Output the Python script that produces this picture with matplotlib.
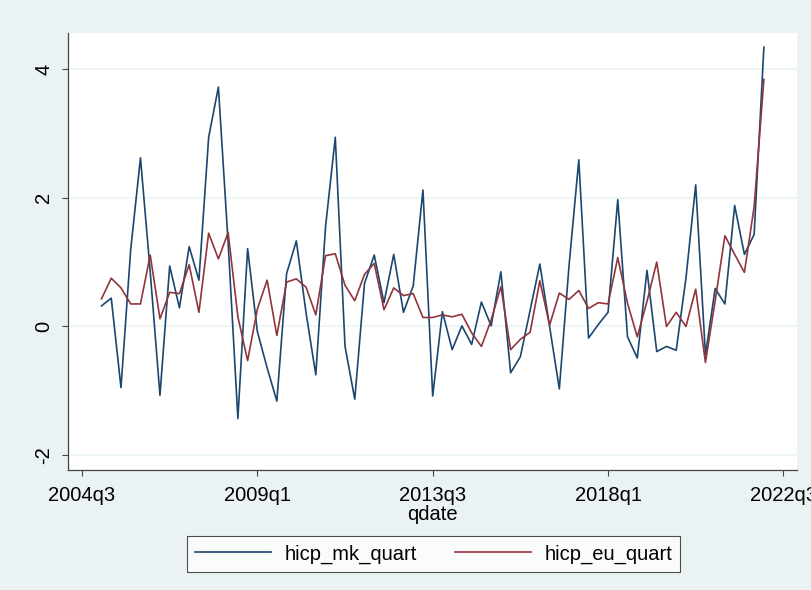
import numpy as np
import matplotlib
matplotlib.use('Agg')
import matplotlib.pyplot as plt

# quarterly dates in Stata tq() units (2005q1 = 180)
qdate = np.arange(180, 180 + 69)

hicp_mk_quart = [0.32, 0.44, -0.95, 1.2, 2.62, 0.85, -1.07, 0.94, 0.29, 1.24,
                 0.72, 2.94, 3.72, 1.3, -1.43, 1.21, -0.08, -0.64, -1.16, 0.82,
                 1.33, 0.21, -0.75, 1.55, 2.94, -0.31, -1.13, 0.67, 1.11, 0.37,
                 1.12, 0.22, 0.63, 2.12, -1.08, 0.23, -0.36, 0.01, -0.28, 0.38,
                 0.01, 0.85, -0.72, -0.47, 0.25, 0.97, 0.0, -0.97, 0.95, 2.59,
                 -0.18, 0.03, 0.22, 1.97, -0.16, -0.49, 0.87, -0.39, -0.31, -0.37,
                 0.75, 2.20, -0.44, 0.59, 0.35, 1.88, 1.12, 1.43, 4.34]

hicp_eu_quart = [0.43, 0.75, 0.60, 0.35, 0.35, 1.11, 0.12, 0.53, 0.51, 0.96,
                 0.22, 1.45, 1.05, 1.46, 0.15, -0.53, 0.27, 0.72, -0.14, 0.69,
                 0.74, 0.61, 0.18, 1.10, 1.13, 0.64, 0.40, 0.81, 0.98, 0.26,
                 0.60, 0.48, 0.51, 0.14, 0.14, 0.18, 0.15, 0.19, -0.10, -0.31,
                 0.10, 0.62, -0.36, -0.20, -0.09, 0.71, 0.02, 0.52, 0.42, 0.56,
                 0.28, 0.37, 0.35, 1.07, 0.36, -0.16, 0.39, 1.00, 0.0, 0.22,
                 0.0, 0.58, -0.56, 0.40, 1.41, 1.12, 0.84, 1.86, 3.84]

xticks = [178, 196, 214, 232, 250]
yticks = [-2, 0, 2, 4]


def qlabel(q):
    return f"{1960 + q // 4}q{q % 4 + 1}"


plt.rcParams['font.family'] = ['Liberation Sans', 'DejaVu Sans']
bg = '#EAF2F3'

fig = plt.figure(figsize=(8.11, 5.9), dpi=100, facecolor=bg)
ax = fig.add_axes([68 / 811, 1 - 470 / 590, (797 - 68) / 811, (470 - 33) / 590])
ax.set_facecolor('white')

ax.plot(qdate, hicp_mk_quart, color='#1a476f', linewidth=1.2, label='hicp_mk_quart')
ax.plot(qdate, hicp_eu_quart, color='#90353b', linewidth=1.2, label='hicp_eu_quart')

ax.set_xlim(176.56, 251.4)
ax.set_ylim(-2.23, 4.56)
ax.set_xticks(xticks)
ax.set_xticklabels([qlabel(q) for q in xticks])
ax.set_yticks(yticks)
ax.set_yticklabels([str(v) for v in yticks], rotation=90, va='center')

ax.grid(axis='y', color=bg, linewidth=1.1)
ax.set_axisbelow(True)

for side in ['top', 'right']:
    ax.spines[side].set_visible(False)
for side in ['left', 'bottom']:
    ax.spines[side].set_color('#444444')
    ax.spines[side].set_linewidth(0.9)

ax.tick_params(axis='both', direction='out', length=4.5, width=0.8,
               color='#444444', labelsize=14.5)
ax.tick_params(axis='x', pad=7)
ax.tick_params(axis='y', pad=6)
ax.set_xlabel('qdate', fontsize=14.5, labelpad=0)

leg = fig.legend(loc='center', bbox_to_anchor=(433.5 / 811, 1 - 554 / 590),
                 ncol=2, fontsize=14.5, frameon=True, fancybox=False,
                 handlelength=3.8, handletextpad=0.65, columnspacing=1.9,
                 borderpad=0.4, borderaxespad=0)
leg.get_frame().set_edgecolor('#222222')
leg.get_frame().set_linewidth(0.8)

fig.savefig('out.png', dpi=100, facecolor=bg)
